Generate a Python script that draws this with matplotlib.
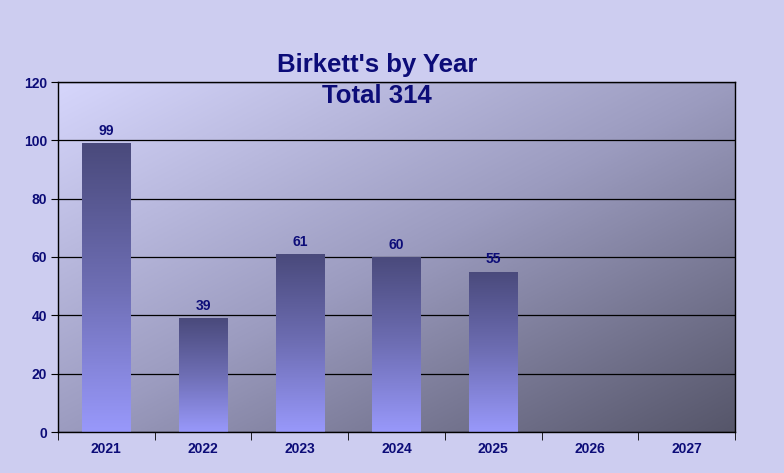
import matplotlib

matplotlib.use("Agg")
import matplotlib.pyplot as plt
import numpy as np
from matplotlib.colors import LinearSegmentedColormap
from matplotlib.patches import Rectangle

years = ["2021", "2022", "2023", "2024", "2025", "2026", "2027"]
counts = [99, 39, 61, 60, 55, 0, 0]
title_lines = ["Birkett's by Year", "Total 314"]

NAVY = "#0c0c78"

fig = plt.figure(figsize=(7.84, 4.73), dpi=100)
fig.patch.set_facecolor("#cdcdf0")
ax = fig.add_axes([58 / 784, 1 - 432 / 473, 677 / 784, 350 / 473])

x = np.arange(len(years))
ax.set_xlim(-0.5, len(years) - 0.5)
ax.set_ylim(0, 120)

# diagonal background gradient of the plot area
bg_cmap = LinearSegmentedColormap.from_list("bg", ["#d6d6fc", "#9c9cc0", "#56566a"])
gx, gy = np.meshgrid(np.linspace(0, 1, 200), np.linspace(0, 1, 200))
grad = (gx + (1 - gy)) / 2
ax.imshow(grad, cmap=bg_cmap, extent=[-0.5, len(years) - 0.5, 120, 0],
          aspect="auto", zorder=0, interpolation="bilinear")

# bars with vertical gradient, dark at top
bar_cmap = LinearSegmentedColormap.from_list("bar", ["#9898fa", "#6e6eb4", "#4a4a7c"])
vgrad = np.linspace(0, 1, 100).reshape(-1, 1)
bars = ax.bar(x, counts, width=0.5, color="none", zorder=3)
for rect, val in zip(bars, counts):
    if val <= 0:
        continue
    x0, w = rect.get_x(), rect.get_width()
    im = ax.imshow(vgrad, cmap=bar_cmap, extent=[x0, x0 + w, 0, val],
                   origin="lower", aspect="auto", zorder=3)
    im.set_clip_path(Rectangle((x0, 0), w, val, transform=ax.transData))
    ax.text(rect.get_x() + w / 2, val + 1.8, str(val), ha="center", va="bottom",
            color=NAVY, fontsize=10, fontweight="bold", family="Liberation Sans")

ax.set_xlim(-0.5, len(years) - 0.5)
ax.set_ylim(0, 120)

ax.set_yticks(np.arange(0, 121, 20))
ax.yaxis.grid(True, color="black", linewidth=0.9, zorder=1)
ax.set_axisbelow(True)
for sp in ax.spines.values():
    sp.set_color("black")
    sp.set_linewidth(1.0)
    sp.set_zorder(5)

ax.set_xticks(x)
ax.set_xticklabels(years)
ax.set_xticks(np.arange(-0.5, len(years), 1), minor=True)
ax.tick_params(axis="x", which="major", length=0, pad=7)
ax.tick_params(axis="x", which="minor", length=6, direction="out", color="black")
ax.tick_params(axis="y", length=5, direction="out", color="black", pad=3)
for lbl in ax.get_xticklabels() + ax.get_yticklabels():
    lbl.set_color(NAVY)
    lbl.set_fontweight("bold")
    lbl.set_fontsize(10)
    lbl.set_family("Liberation Sans")

fig.text(377 / 784, 1 - 65 / 473, title_lines[0], ha="center", va="center",
         color=NAVY, fontsize=18.5, fontweight="bold", family="Liberation Sans", zorder=10)
fig.text(377 / 784, 1 - 96 / 473, title_lines[1], ha="center", va="center",
         color=NAVY, fontsize=18.5, fontweight="bold", family="Liberation Sans", zorder=10)

plt.savefig("out.png", dpi=100, facecolor=fig.get_facecolor())
